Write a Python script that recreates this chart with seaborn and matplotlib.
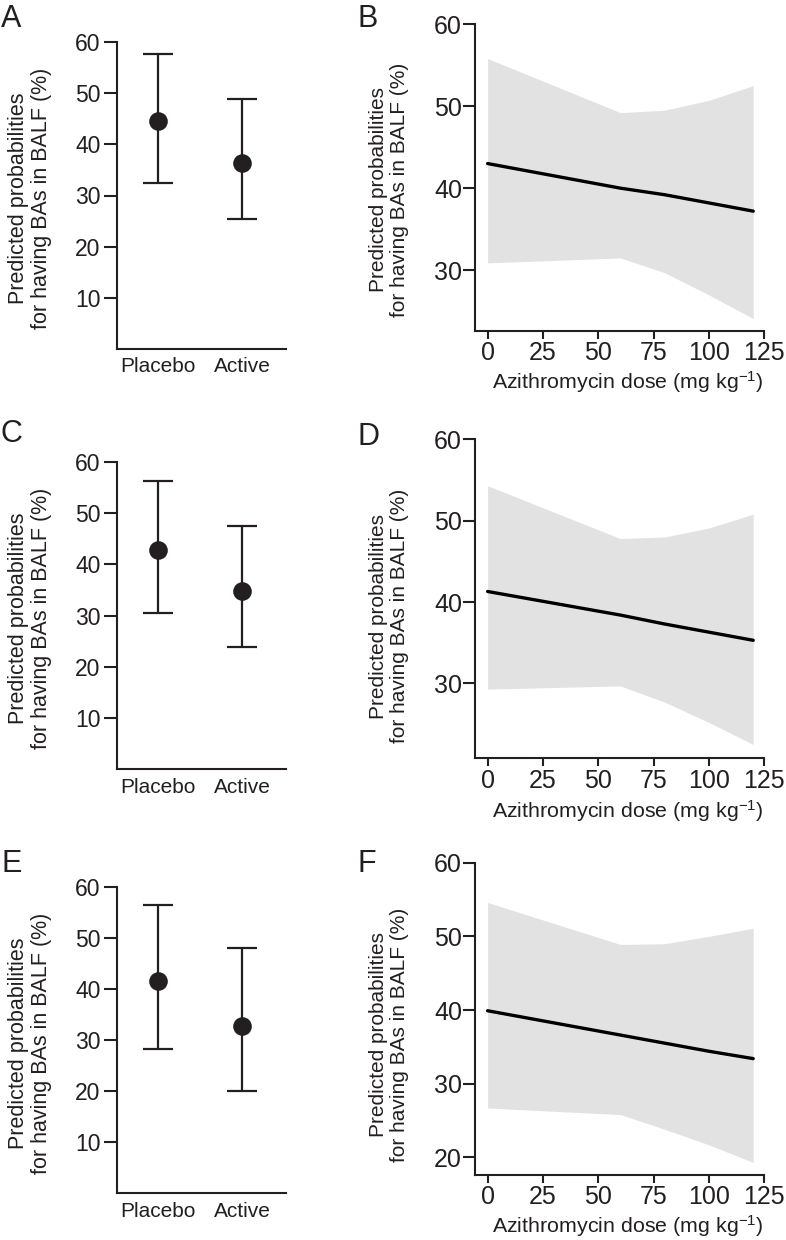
import numpy as np
import pandas as pd
import matplotlib
matplotlib.use("Agg")
import matplotlib.pyplot as plt
import seaborn as sns

# ---------------- data ----------------
groups = ["Placebo", "Active"]

A_mean = [44.6, 36.3]
A_lo = [32.5, 25.4]
A_hi = [57.6, 48.8]

C_mean = [42.9, 34.8]
C_lo = [30.6, 23.9]
C_hi = [56.3, 47.5]

E_mean = [41.6, 32.7]
E_lo = [28.2, 20.1]
E_hi = [56.4, 48.1]

dose = [0, 60, 80, 100, 120]

B_line = [43.0, 40.0, 39.2, 38.2, 37.2]
B_hi = [55.8, 49.2, 49.5, 50.7, 52.5]
B_lo = [30.9, 31.5, 29.7, 27.0, 24.1]

D_line = [41.3, 38.4, 37.3, 36.3, 35.3]
D_hi = [54.3, 47.8, 48.0, 49.1, 50.8]
D_lo = [29.3, 29.7, 27.7, 25.2, 22.5]

F_line = [39.9, 36.6, 35.5, 34.4, 33.4]
F_hi = [54.6, 48.9, 49.0, 50.0, 51.1]
F_lo = [26.7, 25.8, 23.8, 21.7, 19.3]

left_yticks = [10, 20, 30, 40, 50, 60]
dose_ticks = [0, 25, 50, 75, 100, 125]

ylabel = "Predicted probabilities\nfor having BAs in BALF (%)"
xlabel = "Azithromycin dose (mg kg$^{-1}$)"

# ---------------- style ----------------
sns.set_style("ticks")
plt.rcParams["font.family"] = ["Liberation Sans", "DejaVu Sans"]
plt.rcParams["mathtext.fontset"] = "custom"
plt.rcParams["mathtext.rm"] = "Liberation Sans"
plt.rcParams["mathtext.it"] = "Liberation Sans"

INK = "#231f20"
BAND = "#e2e2e2"

W, H = 786, 1240
fig = plt.figure(figsize=(W / 100, H / 100), dpi=100)


def rect(left, right, top, bottom):
    return [left / W, 1 - bottom / H, (right - left) / W, (bottom - top) / H]


def style_axes(ax):
    sns.despine(ax=ax)
    for s in ("left", "bottom"):
        ax.spines[s].set_linewidth(1.5)
        ax.spines[s].set_color(INK)
    ax.tick_params(colors=INK, width=1.5)


def cat_panel(pos, mean, lo, hi, letter, letter_xy):
    ax = fig.add_axes(pos)
    df = pd.DataFrame({"group": groups, "mean": mean, "lo": lo, "hi": hi})
    x = np.arange(len(groups))
    yerr = [df["mean"] - df["lo"], df["hi"] - df["mean"]]
    ax.errorbar(x, df["mean"], yerr=yerr, fmt="none", ecolor=INK,
                elinewidth=1.6, capsize=10.5, capthick=1.6, zorder=2)
    sns.scatterplot(x=x, y=df["mean"], ax=ax, s=180, color=INK,
                    edgecolor=INK, linewidth=0, zorder=3, legend=False)
    ax.set_xlim(-0.49, 1.52)
    ax.set_ylim(0, 60)
    ax.set_xticks(x)
    ax.set_xticklabels(groups, fontsize=15, color=INK)
    ax.set_yticks(left_yticks)
    ax.set_yticklabels([str(t) for t in left_yticks], fontsize=16.5, color=INK)
    style_axes(ax)
    ax.tick_params(axis="x", length=0, pad=6)
    ax.tick_params(axis="y", length=9.5, pad=2.4)
    ax.set_xlabel("")
    ax.set_ylabel(ylabel, fontsize=15.5, color=INK, va="center",
                  linespacing=1.1)
    ax.yaxis.set_label_coords(-0.515, 0.49)
    fig.text(letter_xy[0] / W, 1 - letter_xy[1] / H, letter, fontsize=22,
             color=INK, va="baseline", ha="left")
    return ax


def dose_panel(pos, line, lo, hi, ylim, yticks, letter, letter_xy, ylab_y):
    ax = fig.add_axes(pos)
    ax.fill_between(dose, lo, hi, color=BAND, linewidth=0, zorder=1)
    sns.lineplot(x=dose, y=line, ax=ax, color="black", linewidth=2.4,
                 zorder=3)
    ax.set_xlim(-5.7, 125)
    ax.set_ylim(*ylim)
    ax.set_xticks(dose_ticks)
    ax.set_xticklabels([str(t) for t in dose_ticks], fontsize=18, color=INK)
    ax.set_yticks(yticks)
    ax.set_yticklabels([str(t) for t in yticks], fontsize=18, color=INK)
    style_axes(ax)
    ax.tick_params(axis="x", length=6, pad=1.5)
    ax.tick_params(axis="y", length=8.5, pad=0.8)
    ax.set_xlabel(xlabel, fontsize=15.4, color=INK, va="center")
    ax.xaxis.set_label_coords(0.527, -0.165)
    ax.set_ylabel(ylabel, fontsize=15, color=INK, va="center",
                  linespacing=1.1)
    ax.yaxis.set_label_coords(-0.297, ylab_y)
    fig.text(letter_xy[0] / W, 1 - letter_xy[1] / H, letter, fontsize=22,
             color=INK, va="baseline", ha="left")
    return ax


cat_panel(rect(117, 286, 42, 349), A_mean, A_lo, A_hi, "A", (1, 27))
cat_panel(rect(117, 286, 462, 769.3), C_mean, C_lo, C_hi, "C", (1, 442))
cat_panel(rect(117, 286, 886.7, 1193.3), E_mean, E_lo, E_hi, "E", (1, 872))

dose_panel(rect(475, 764.3, 24, 331), B_line, B_lo, B_hi, (22.6, 60),
           [30, 40, 50, 60], "B", (358, 27), 0.46)
dose_panel(rect(475, 764.3, 439.3, 758.3), D_line, D_lo, D_hi, (20.8, 60),
           [30, 40, 50, 60], "D", (358, 445), 0.446)
dose_panel(rect(475, 764.3, 862.7, 1175), F_line, F_lo, F_hi, (17.6, 60),
           [20, 30, 40, 50, 60], "F", (358, 872), 0.449)

fig.savefig("out.png", dpi=100, facecolor="white")
